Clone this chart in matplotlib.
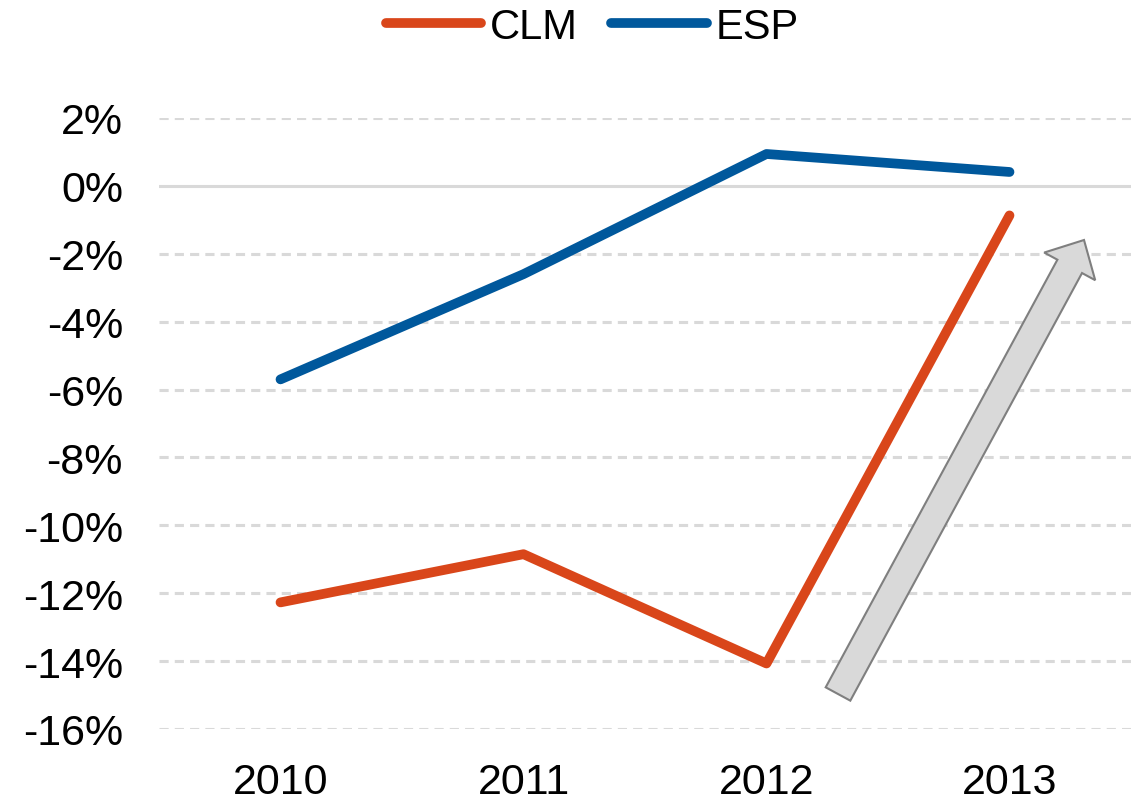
import matplotlib
matplotlib.use("Agg")
import matplotlib.pyplot as plt
from matplotlib.patches import FancyArrow
from matplotlib.ticker import FuncFormatter

years = ["2010", "2011", "2012", "2013"]
clm = [-12.27, -10.85, -14.07, -0.87]
esp = [-5.70, -2.60, 0.94, 0.41]
yticks = [2, 0, -2, -4, -6, -8, -10, -12, -14, -16]

plt.rcParams['font.family'] = ['Liberation Sans', 'DejaVu Sans']

fig = plt.figure(figsize=(11.45, 8.03), dpi=100)
ax = fig.add_axes([159/1145, 1-730/803, 972/1145, 611/803])

x = list(range(len(years)))
l1, = ax.plot(x, clm, color="#D9461A", lw=7, solid_capstyle="round", label="CLM", zorder=3)
l2, = ax.plot(x, esp, color="#00589C", lw=7, solid_capstyle="round", label="ESP", zorder=3)

ax.set_xlim(-0.5, 3.5)
ax.set_ylim(-16, 2)
ax.set_xticks(x)
ax.set_xticklabels(years)
ax.set_yticks(yticks)
ax.yaxis.set_major_formatter(FuncFormatter(lambda v, p: f"{v:.0f}%"))
for v in yticks:
    if v == 0:
        ax.axhline(v, color="#D9D9D9", lw=2.2, zorder=1)
    else:
        ax.axhline(v, color="#D9D9D9", lw=2.2, ls=(0, (3, 2)), zorder=1)
for s in ax.spines.values():
    s.set_visible(False)
ax.tick_params(axis="both", length=0, labelsize=31, colors="black")
ax.tick_params(axis="y", pad=26)
ax.tick_params(axis="x", pad=24)

# grey arrow (in inches, isotropic)
tail = (8.38, 1.08)
tip = (10.84, 5.62)
arr = FancyArrow(tail[0], tail[1], tip[0]-tail[0], tip[1]-tail[1], width=0.28,
                 head_width=0.58, head_length=0.30, length_includes_head=True,
                 transform=fig.dpi_scale_trans, facecolor="#D9D9D9",
                 edgecolor="#7F7F7F", lw=1.5, zorder=4)
fig.patches.append(arr)

fig.legend(handles=[l1, l2], loc="center", bbox_to_anchor=(592/1145, 1-28/803),
           ncol=2, frameon=False, fontsize=30, handlelength=2.3,
           handletextpad=0.2, columnspacing=0.8)

fig.savefig("out.png", dpi=100)
